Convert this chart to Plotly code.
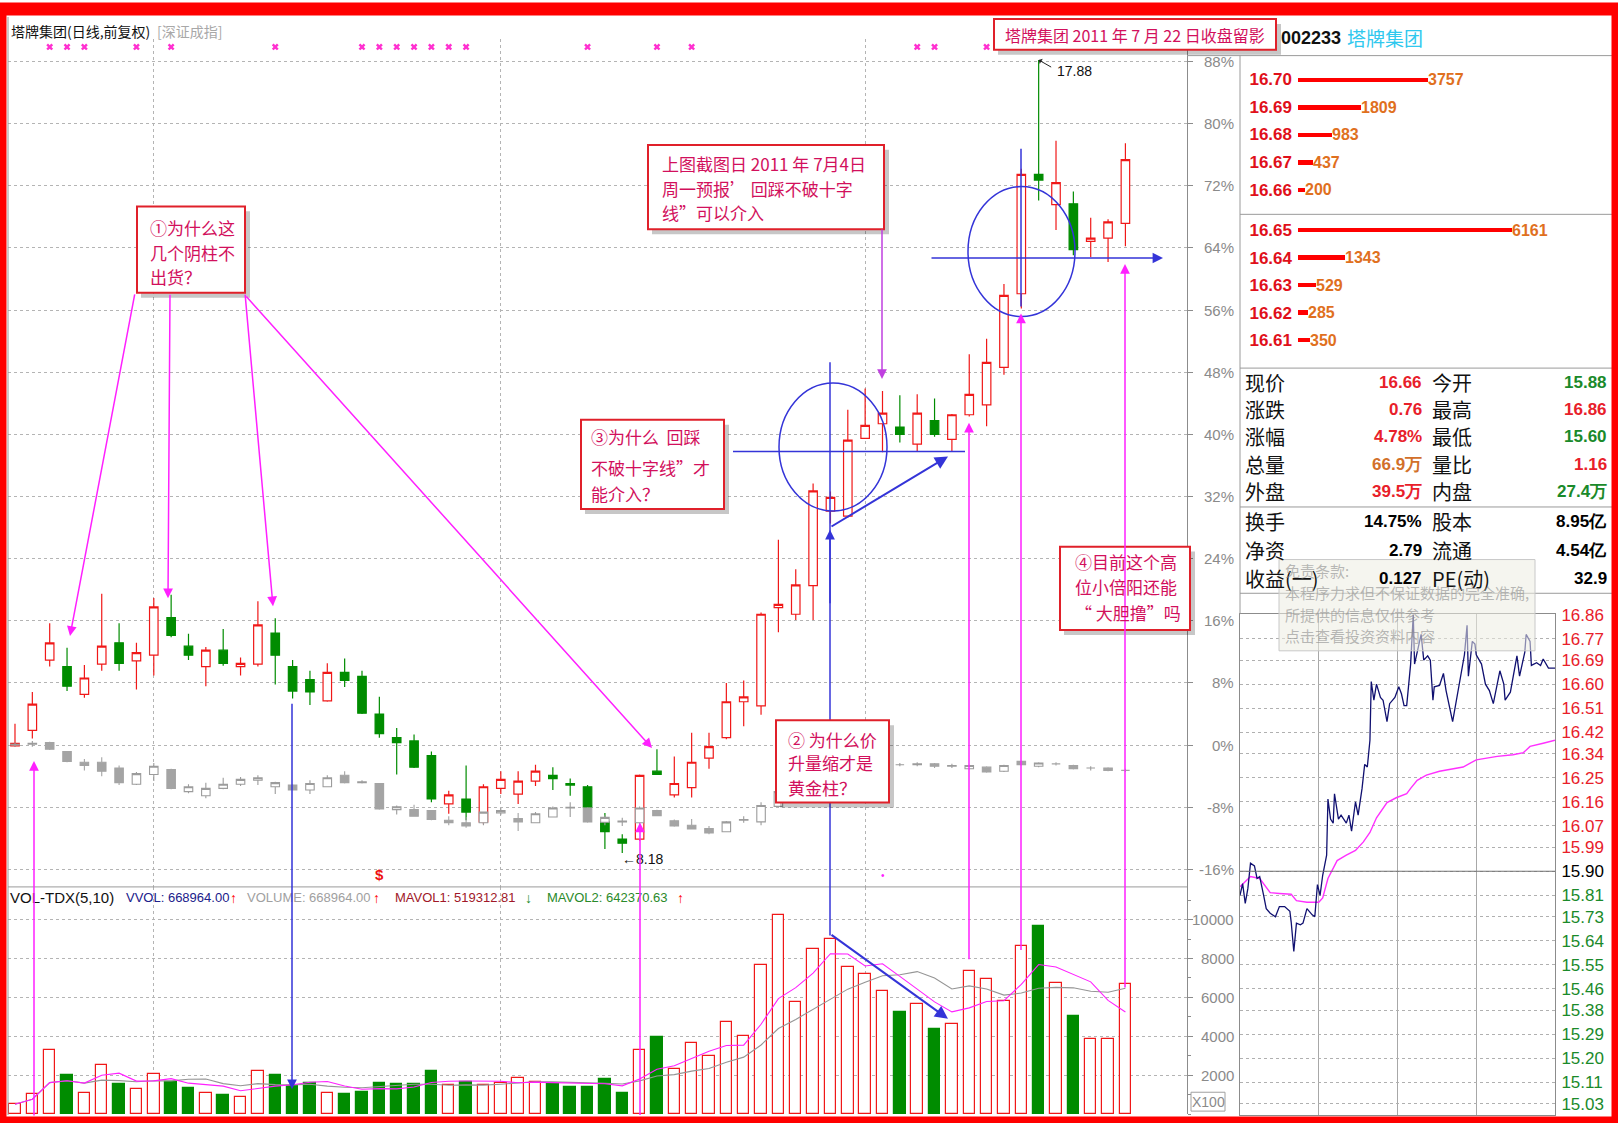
import plotly.graph_objects as go
import pandas as pd

W, H = 1618, 1123
def X(px): return px / W
def Y(py): return 1 - py / H

NARROW = "Liberation Sans Narrow, Arial Narrow, Liberation Sans, Arial, sans-serif"
SANS = "Liberation Sans, Arial, sans-serif"
CJK = "Noto Sans CJK SC, sans-serif"

# ---------------- daily data (price, 65 trading days) ----------------
base_price = 9.50  # 0% reference of the percent axis
opens = [9.49, 9.68, 10.54, 10.46, 10.12, 10.49, 10.75, 10.53, 10.60, 11.06,
         10.71, 10.46, 10.66, 10.46, 10.49, 10.87, 10.46, 10.30, 10.04, 10.39,
         10.34, 9.88, 9.59, 9.55, 9.37, 8.78, 8.84, 8.56, 8.97, 8.90,
         9.06, 9.13, 9.03, 8.99, 8.56, 8.35, 8.35, 9.18, 8.89, 8.98,
         9.34, 9.59, 10.03, 9.98, 11.18, 11.10, 11.45, 12.36, 12.30, 13.25,
         13.43, 13.39, 13.18, 13.47, 13.24, 13.54, 13.66, 14.12, 15.02, 16.48,
         16.11, 16.12, 15.66, 15.70, 15.88]
highs = [9.76, 10.15, 10.99, 10.69, 10.48, 11.35, 10.99, 10.75, 11.30, 11.34,
         10.86, 10.70, 10.92, 10.57, 11.26, 11.05, 10.54, 10.41, 10.50, 10.56,
         10.41, 10.09, 9.71, 9.63, 9.42, 8.94, 9.25, 9.02, 9.18, 9.18,
         9.26, 9.23, 9.09, 9.01, 8.67, 8.41, 9.14, 9.45, 9.36, 9.65,
         9.65, 10.26, 10.29, 11.12, 12.01, 11.65, 12.70, 12.60, 13.60, 13.86,
         13.83, 13.78, 13.79, 13.74, 13.55, 14.28, 14.47, 15.14, 16.55, 17.88,
         16.89, 16.27, 15.95, 15.93, 16.86]
lows = [9.48, 9.58, 10.46, 10.16, 10.08, 10.41, 10.41, 10.18, 10.35, 10.82,
        10.54, 10.22, 10.47, 10.35, 10.46, 10.24, 10.07, 9.99, 10.03, 10.21,
        9.88, 9.59, 9.14, 9.22, 8.80, 8.66, 8.58, 8.53, 8.90, 8.78,
        9.00, 8.95, 8.88, 8.72, 8.23, 8.18, 8.33, 9.14, 8.86, 8.86,
        9.21, 9.57, 9.73, 9.87, 10.88, 11.03, 11.03, 12.21, 12.28, 13.25,
        13.08, 13.20, 13.09, 13.27, 13.09, 13.52, 13.40, 14.03, 14.84, 16.16,
        15.80, 15.49, 15.47, 15.41, 15.60]
closes = [9.52, 10.00, 10.75, 10.22, 10.32, 10.71, 10.50, 10.63, 11.19, 10.84,
          10.60, 10.66, 10.50, 10.50, 10.97, 10.60, 10.16, 10.15, 10.39, 10.29,
          9.89, 9.64, 9.53, 9.23, 8.84, 8.89, 8.68, 8.99, 9.08, 9.06,
          9.18, 9.09, 9.01, 8.74, 8.44, 8.30, 9.13, 9.14, 9.03, 9.29,
          9.48, 10.03, 10.09, 11.10, 11.22, 11.46, 12.61, 12.53, 13.23, 13.41,
          13.56, 13.30, 13.56, 13.30, 13.54, 13.79, 14.18, 15.00, 16.48, 16.41,
          16.38, 15.56, 15.70, 15.90, 16.66]

# overlaid index (深证成指), drawn on the same price scale
idx_open = [9.50, 9.51, 9.53, 9.42, 9.29, 9.29, 9.22, 9.02, 9.14, 9.20,
            8.93, 8.88, 8.97, 9.02, 9.07, 8.99, 9.01, 8.95, 8.99, 9.13,
            9.04, 9.03, 8.71, 8.71, 8.70, 8.58, 8.55, 8.55, 8.67, 8.60,
            8.55, 8.62, 8.73, 8.73, 8.555, 8.56, 8.55, 8.70, 8.575, 8.52,
            8.48, 8.44, 8.58, 8.56, 8.75, 8.93, 9.00, 9.10, 9.12, 9.20,
            9.25, 9.26, 9.26, 9.27, 9.24, 9.21, 9.23, 9.18, 9.30, 9.24,
            9.27, 9.25, 9.22, 9.22, 9.19]
idx_high = [9.53, 9.55, 9.54, 9.42, 9.33, 9.35, 9.25, 9.17, 9.28, 9.21,
            9.02, 9.04, 9.10, 9.11, 9.13, 9.05, 9.02, 9.07, 9.13, 9.18,
            9.07, 9.03, 8.76, 8.77, 8.70, 8.63, 8.62, 8.68, 8.73, 8.67,
            8.68, 8.75, 8.80, 8.74, 8.64, 8.61, 8.75, 8.71, 8.59, 8.595,
            8.51, 8.57, 8.63, 8.80, 8.95, 9.03, 9.12, 9.15, 9.22, 9.24,
            9.28, 9.28, 9.29, 9.28, 9.27, 9.26, 9.24, 9.26, 9.31, 9.29,
            9.29, 9.26, 9.24, 9.23, 9.21]
idx_low = [9.48, 9.48, 9.44, 9.29, 9.19, 9.12, 9.01, 9.01, 9.06, 8.96,
           8.91, 8.85, 8.96, 9.00, 9.01, 8.90, 8.95, 8.90, 8.99, 9.03,
           9.03, 8.71, 8.65, 8.63, 8.58, 8.52, 8.49, 8.52, 8.64, 8.45,
           8.55, 8.62, 8.62, 8.55, 8.52, 8.51, 8.52, 8.63, 8.50, 8.47,
           8.41, 8.44, 8.55, 8.52, 8.74, 8.90, 8.98, 9.08, 9.10, 9.18,
           9.23, 9.24, 9.24, 9.22, 9.22, 9.20, 9.16, 9.17, 9.25, 9.23,
           9.25, 9.20, 9.19, 9.18, 9.17]
idx_close = [9.51, 9.52, 9.45, 9.30, 9.25, 9.18, 9.04, 9.15, 9.24, 8.97,
             8.99, 8.97, 9.02, 9.08, 9.10, 9.04, 8.95, 9.03, 9.10, 9.04,
             9.05, 8.72, 8.745, 8.63, 8.59, 8.55, 8.51, 8.68, 8.70, 8.56,
             8.66, 8.73, 8.74, 8.56, 8.615, 8.57, 8.73, 8.635, 8.51, 8.475,
             8.425, 8.56, 8.59, 8.76, 8.93, 9.00, 9.10, 9.12, 9.20, 9.22,
             9.26, 9.26, 9.27, 9.24, 9.25, 9.25, 9.17, 9.25, 9.26, 9.28,
             9.27, 9.21, 9.22, 9.19, 9.19]

# volume in hundreds of shares (X100)
volumes = [510, 1021, 3319, 2009, 1106, 2519, 1566, 1277, 2077, 1668,
           1362, 1106, 970, 885, 2213, 2009, 1447, 1617, 1106, 1055,
           1140, 1617, 1566, 1566, 2213, 1481, 1668, 1481, 1583, 1838,
           1651, 1532, 1413, 1413, 1787, 1106, 3285, 3949, 2298, 3660,
           2979, 4766, 4034, 7660, 10264, 5787, 8511, 9021, 7574, 7200,
           6332, 5277, 5651, 4391, 4630, 7370, 6928, 5821, 8630, 9702,
           6757, 5055, 3864, 3864, 6690]

pct_ticks = [88, 80, 72, 64, 56, 48, 40, 32, 24, 16, 8, 0, -8, -16]
vol_ticks = [2000, 4000, 6000, 8000, 10000]
month_starts = [8, 28, 49]
signal_days = [2, 3, 4, 7, 9, 15, 20, 21, 22, 23, 24, 25, 26, 33, 37, 39, 52, 53, 56]

# ---------------- order book ----------------
ask_prices = ["16.70", "16.69", "16.68", "16.67", "16.66"]
ask_vols = [3757, 1809, 983, 437, 200]
bid_prices = ["16.65", "16.64", "16.63", "16.62", "16.61"]
bid_vols = [6161, 1343, 529, 285, 350]

# ---------------- quote table ----------------
q_lab1 = ["现价", "涨跌", "涨幅", "总量", "外盘", "换手", "净资", "收益(一)"]
q_val1 = ["16.66", "0.76", "4.78%", "66.9万", "39.5万", "14.75%", "2.79", "0.127"]
q_col1 = ["#e8202a", "#e8202a", "#e8202a", "#d2702a", "#e8202a", "#000000", "#000000", "#000000"]
q_lab2 = ["今开", "最高", "最低", "量比", "内盘", "股本", "流通", "PE(动)"]
q_val2 = ["15.88", "16.86", "15.60", "1.16", "27.4万", "8.95亿", "4.54亿", "32.9"]
q_col2 = ["#1a8a2a", "#e8202a", "#1a8a2a", "#e8202a", "#1a8a2a", "#000000", "#000000", "#000000"]
q_rows_py = [377, 404, 431, 459, 486, 517, 546, 574]

# ---------------- intraday (minute, price) ----------------
tick_minutes = [0, 2, 4, 6, 8, 11, 13, 15, 18, 20, 23, 27, 30, 34, 38, 39, 41, 43, 46, 48,
                51, 55, 57, 59, 61, 63, 66, 67, 69, 71, 72, 75, 77, 81, 83, 85, 88, 90, 93, 95,
                97, 99, 100, 102, 104, 107, 109, 112, 114, 118, 121, 123, 125, 127, 130, 132, 133, 137, 138, 140,
                143, 145, 147, 148, 152, 155, 157, 162, 165, 169, 171, 173, 174, 177, 179, 180, 184, 187, 190, 193,
                196, 198, 201, 202, 206, 210, 211, 213, 217, 218, 221, 222, 226, 229, 231, 235, 240]
tick_prices = [15.81, 15.854, 15.78, 15.836, 15.93, 15.92, 15.873, 15.88, 15.81, 15.76,
               15.743, 15.73, 15.768, 15.768, 15.75, 15.71, 15.60, 15.706, 15.70, 15.706,
               15.76, 15.737, 15.73, 15.85, 15.81, 15.885, 15.96, 16.17, 16.095, 16.08,
               16.19, 16.095, 16.11, 16.08, 16.11, 16.05, 16.16, 16.11, 16.21, 16.30,
               16.29, 16.39, 16.61, 16.54, 16.60, 16.55, 16.54, 16.46, 16.527, 16.55,
               16.59, 16.564, 16.52, 16.52, 16.675, 16.86, 16.675, 16.76, 16.786, 16.69,
               16.706, 16.69, 16.54, 16.59, 16.595, 16.64, 16.576, 16.46, 16.545, 16.66,
               16.71, 16.82, 16.63, 16.76, 16.75, 16.71, 16.675, 16.60, 16.576, 16.527,
               16.61, 16.65, 16.60, 16.54, 16.57, 16.68, 16.706, 16.63, 16.72, 16.786,
               16.76, 16.67, 16.68, 16.67, 16.694, 16.66, 16.66]
avg_minutes = [0, 8, 15, 23, 30, 39, 43, 51, 60, 63, 67, 74, 81, 88, 94, 99, 104, 112, 119, 127,
               130, 135, 142, 152, 170, 180, 196, 208, 216, 221, 231, 240]
avg_prices = [15.842, 15.88, 15.873, 15.82, 15.817, 15.814, 15.79, 15.784, 15.784, 15.80,
              15.873, 15.94, 15.96, 15.978, 16.01, 16.045, 16.10, 16.157, 16.175, 16.19,
              16.21, 16.24, 16.26, 16.274, 16.29, 16.317, 16.33, 16.336, 16.344, 16.367,
              16.379, 16.39]
prev_close = 15.90
intraday_labels = ["16.86", "16.77", "16.69", "16.60", "16.51", "16.42", "16.34", "16.25", "16.16", "16.07",
                   "15.99", "15.90", "15.81", "15.73", "15.64", "15.55", "15.46", "15.38", "15.29", "15.20",
                   "15.11", "15.03"]

# =====================================================================
days = list(range(len(opens)))
ma5 = pd.Series(volumes).rolling(5, min_periods=1).mean()
ma10 = pd.Series(volumes).rolling(10, min_periods=1).mean()
up = [c >= o for o, c in zip(opens, closes)]
RED = "#f01818"
GREEN = "#008c00"

fig = go.Figure()

fig.add_trace(go.Candlestick(
    x=days, open=opens, high=highs, low=lows, close=closes,
    increasing=dict(line=dict(color=RED, width=1.2), fillcolor="white"),
    decreasing=dict(line=dict(color=GREEN, width=1.2), fillcolor=GREEN),
    xaxis="x", yaxis="y", hoverinfo="skip"))
fig.add_trace(go.Candlestick(
    x=days, open=idx_open, high=idx_high, low=idx_low, close=idx_close,
    increasing=dict(line=dict(color="#9c9c9c", width=1.1), fillcolor="white"),
    decreasing=dict(line=dict(color="#a4a4a4", width=1.1), fillcolor="#a4a4a4"),
    xaxis="x", yaxis="y", hoverinfo="skip"))

Y_TOP, Y_BOT = 18.139, 7.765
fig.add_trace(go.Scatter(
    x=signal_days, y=[Y_TOP - 0.1] * len(signal_days), mode="markers",
    marker=dict(symbol="x", size=6, color="#ff30d0", line=dict(width=0)),
    xaxis="x", yaxis="y", hoverinfo="skip"))

fig.add_trace(go.Bar(
    x=days, y=volumes, width=0.66,
    marker=dict(color=["white" if u else GREEN for u in up],
                line=dict(color=[RED if u else GREEN for u in up], width=1.2)),
    xaxis="x2", yaxis="y2", hoverinfo="skip"))
fig.add_trace(go.Scatter(x=days, y=ma10, mode="lines", line=dict(color="#959595", width=1.1),
                         xaxis="x2", yaxis="y2", hoverinfo="skip"))
fig.add_trace(go.Scatter(x=days, y=ma5, mode="lines", line=dict(color="#ff20ff", width=1.1),
                         xaxis="x2", yaxis="y2", hoverinfo="skip"))

fig.add_trace(go.Scatter(x=avg_minutes, y=avg_prices, mode="lines", line=dict(color="#ff30ff", width=1.4),
                         xaxis="x3", yaxis="y3", hoverinfo="skip"))
fig.add_trace(go.Scatter(x=tick_minutes, y=tick_prices, mode="lines", line=dict(color="#101070", width=1.3),
                         xaxis="x3", yaxis="y3", hoverinfo="skip"))

fig.add_trace(go.Bar(x=ask_vols, y=ask_prices, orientation="h", width=0.16,
                     marker=dict(color="#ff0000", line=dict(width=0)),
                     text=[str(v) for v in ask_vols], textposition="outside", constraintext="none",
                     texttemplate="<b>%{text}</b>",
                     textfont=dict(color="#e0701e", size=16, family=SANS), cliponaxis=False,
                     xaxis="x4", yaxis="y4", hoverinfo="skip"))
fig.add_trace(go.Bar(x=bid_vols, y=bid_prices, orientation="h", width=0.16,
                     marker=dict(color="#ff0000", line=dict(width=0)),
                     text=[str(v) for v in bid_vols], textposition="outside", constraintext="none",
                     texttemplate="<b>%{text}</b>",
                     textfont=dict(color="#e0701e", size=16, family=SANS), cliponaxis=False,
                     xaxis="x4", yaxis="y5", hoverinfo="skip"))

# ---------------- layout ----------------
grid = "#b4b4b4"
axcol = "#8c8c8c"
main_x = [-0.403, 67.55]
fig.update_layout(
    width=W, height=H, margin=dict(l=0, r=0, t=0, b=0),
    paper_bgcolor="white", plot_bgcolor="white", showlegend=False,
    hovermode=False, dragmode=False, bargap=0,
    xaxis=dict(domain=[X(8), X(1187)], range=main_x, anchor="y", tickvals=month_starts,
               showticklabels=False, ticks="", showgrid=True, griddash="dot", gridcolor=grid,
               zeroline=False, showline=False, rangeslider=dict(visible=False)),
    yaxis=dict(domain=[Y(885), Y(30)], range=[Y_BOT, Y_TOP], anchor="x", side="right",
               tickvals=[base_price * (1 + p / 100) for p in pct_ticks], showticklabels=False,
               ticks="outside", ticklen=5, tickcolor=axcol, showline=True, linecolor=axcol,
               showgrid=True, griddash="dot", gridcolor=grid, zeroline=False),
    xaxis2=dict(domain=[X(8), X(1187)], range=main_x, anchor="y2", tickvals=month_starts,
                showticklabels=False, ticks="", showgrid=True, griddash="dot", gridcolor=grid,
                zeroline=False, showline=False),
    yaxis2=dict(domain=[Y(1114), Y(885)], range=[0, 11684], anchor="x2", side="right",
                tickvals=vol_ticks, showticklabels=False, ticks="outside", ticklen=5, tickcolor=axcol,
                minor=dict(dtick=1000, ticks="outside", ticklen=3, tickcolor=axcol, showgrid=False),
                showline=True, linecolor=axcol, showgrid=True, griddash="dot", gridcolor=grid,
                zeroline=False),
    xaxis3=dict(domain=[X(1240), X(1555)], range=[0, 240], anchor="y3", tickvals=[60, 120, 180],
                showticklabels=False, ticks="", showgrid=True, gridcolor="#a8a8a8", gridwidth=1,
                zeroline=False, showline=True, mirror=True, linecolor="#8c8c8c"),
    yaxis3=dict(domain=[Y(1115), Y(610)], range=[14.988, 16.862], anchor="x3", side="right",
                tickvals=[float(t) for t in intraday_labels],
                ticktext=[f"<span style='color:{'#e8202a' if float(t) > prev_close else ('#000000' if float(t) == prev_close else '#1a8a2a')}'>{t}</span>"
                          for t in intraday_labels],
                tickfont=dict(size=17, family=NARROW), ticks="", ticklabelstandoff=2,
                showgrid=True, griddash="dot", gridcolor="#b0b0b0", zeroline=False,
                showline=True, mirror=True, linecolor="#8c8c8c"),
    xaxis4=dict(domain=[X(1298), X(1600)], range=[0, 8703], anchor="y4", visible=False),
    yaxis4=dict(domain=[Y(196), Y(57)], anchor="x4", type="category", autorange="reversed",
                tickvals=ask_prices, ticktext=[f"<b>{p}</b>" for p in ask_prices],
                showgrid=False, zeroline=False, showline=False, ticks="",
                tickfont=dict(size=17, color="#e0101a", family=SANS), ticklabelstandoff=5),
    yaxis5=dict(domain=[Y(348), Y(209)], anchor="x4", type="category", autorange="reversed",
                tickvals=bid_prices, ticktext=[f"<b>{p}</b>" for p in bid_prices],
                showgrid=False, zeroline=False, showline=False, ticks="",
                tickfont=dict(size=17, color="#e0101a", family=SANS), ticklabelstandoff=5),
)

shapes = []
ann = []

def line(x0, y0, x1, y1, color, width=1.0, dash=None):
    d = dict(color=color, width=width)
    if dash:
        d["dash"] = dash
    shapes.append(dict(type="line", xref="paper", yref="paper", x0=X(x0), y0=Y(y0), x1=X(x1), y1=Y(y1),
                       line=d, layer="above"))

def arrow(hx, hy, tx, ty, color, width=1.5, head=2, size=1.3):
    ann.append(dict(x=X(hx), y=Y(hy), xref="paper", yref="paper", ax=tx - hx, ay=ty - hy,
                    axref="pixel", ayref="pixel", text="", showarrow=True, arrowhead=head,
                    arrowsize=size, arrowwidth=width, arrowcolor=color, standoff=0, startstandoff=0))

def txt(x, y, s, size=14, color="black", family=NARROW, xanchor="left", yanchor="middle",
        xref="paper", yref="paper", bold=False):
    ann.append(dict(x=x, y=y, xref=xref, yref=yref, text=f"<b>{s}</b>" if bold else s, showarrow=False,
                    xanchor=xanchor, yanchor=yanchor, font=dict(size=size, color=color, family=family)))

def box(x0, y0, x1, y1, lines_, tx, ys, size=17, color="#d2105c"):
    shapes.append(dict(type="rect", xref="paper", yref="paper", x0=X(x0 + 4), x1=X(x1 + 5), y0=Y(y0 + 5),
                       y1=Y(y1 + 5), fillcolor="rgba(0,0,0,0.22)", line=dict(width=0), layer="above"))
    shapes.append(dict(type="rect", xref="paper", yref="paper", x0=X(x0), x1=X(x1), y0=Y(y0), y1=Y(y1),
                       fillcolor="white", line=dict(color="#e0202a", width=2), layer="above"))
    for s, yy in zip(lines_, ys):
        txt(X(tx), Y(yy), s, size=size, color=color, family=CJK)

# frame lines
for seg in [(1187, 47, 1612, 47), (1240, 47, 1240, 610), (1240, 207, 1612, 207), (1240, 362, 1612, 362),
            (1240, 502, 1612, 502), (1240, 589, 1612, 589), (8, 885, 1187, 885), (8, 8, 8, 1115)]:
    line(*seg, color="#9a9a9a", width=1)
shapes.append(dict(type="line", xref="x3 domain", yref="y3", x0=0, x1=1, y0=prev_close, y1=prev_close,
                   line=dict(color="#707070", width=1.2), layer="above"))

# percent + volume axis labels (right aligned like the terminal)
for p in pct_ticks:
    txt(X(1236), base_price * (1 + p / 100), f"{p}%", size=15, color="#8a8a8a", xanchor="right", yref="y")
for v in vol_ticks:
    txt(X(1236), v, str(v), size=15, color="#8a8a8a", xanchor="right", yref="y2")
shapes.append(dict(type="rect", xref="paper", yref="paper", x0=X(1191), x1=X(1225), y0=Y(1111), y1=Y(1092),
                   line=dict(color="#a0a0a0", width=1), fillcolor="white", layer="above"))
txt(X(1208), Y(1101.5), "X100", size=14, color="#8a8a8a", xanchor="center")

# header texts
txt(X(9), Y(22), "塔牌集团(日线,前复权)", size=14, color="#111111", family=CJK)
txt(X(155), Y(22), "[深证成指]", size=14, color="#a8a8a8", family=CJK)
txt(X(1279), Y(29), "002233", size=18, color="#111111", family=SANS, bold=True)
txt(X(1345), Y(29), "塔牌集团", size=19, color="#30c8ee", family=CJK)

# volume header
vh = 896
txt(X(8), Y(vh), "VOL-TDX(5,10)", size=15, color="#111111", family=SANS)
txt(X(124), Y(vh), "VVOL: 668964.00", size=13, color="#20208a", family=SANS)
txt(X(228), Y(vh), "↑", size=14, color="#ff0000", family=SANS, bold=True)
txt(X(245), Y(vh), "VOLUME: 668964.00", size=13, color="#a0a0a0", family=SANS)
txt(X(371), Y(vh), "↑", size=14, color="#ff0000", family=SANS, bold=True)
txt(X(393), Y(vh), "MAVOL1: 519312.81", size=13, color="#a01828", family=SANS)
txt(X(523), Y(vh), "↓", size=14, color="#1a8a2a", family=SANS, bold=True)
txt(X(545), Y(vh), "MAVOL2: 642370.63", size=13, color="#2a8a2a", family=SANS)
txt(X(675), Y(vh), "↑", size=14, color="#ff0000", family=SANS, bold=True)

# small marks on the chart
txt(35, 8.18, "←8.18", size=14, color="#111111", xanchor="left", xref="x", yref="y")
ann[-1]["yshift"] = -6
ann[-1]["xshift"] = -2
ann.append(dict(x=59, y=17.88, xref="x", yref="y", ax=14, ay=8, axref="pixel", ayref="pixel", text="",
                showarrow=True, arrowhead=1, arrowsize=1, arrowwidth=1, arrowcolor="#222222"))
txt(X(1055), Y(63), "17.88", size=14, color="#111111")
txt(21, Y(872), "$", size=15, color="#ee1010", xanchor="center", xref="x", bold=True)
txt(50, Y(873), "•", size=10, color="#ff20ff", xanchor="center", xref="x")

# ---------------- annotations: arrows, circles, boxes ----------------
MAG = "#ff20ff"
BLUE = "#3434d8"
arrow(70, 632, 135, 289, MAG)
arrow(168, 594, 170, 289, MAG)
arrow(273, 602, 245, 289, MAG)
arrow(652, 745, 245, 292, MAG)
arrow(34, 758, 34, 1114, MAG)
arrow(640, 820, 640, 1114, MAG)
arrow(969, 417, 969, 955, MAG)
arrow(1021, 307, 1021, 945, MAG)
arrow(1125, 257, 1125, 982, MAG)
arrow(882, 373, 882, 222, "#c040e0")
arrow(292, 1089, 292, 702, BLUE)
line(830, 356, 830, 934, BLUE, 1.5)
arrow(830, 525, 830, 600, BLUE)
line(733, 446, 965, 446, BLUE, 1.5)
arrow(948, 451, 830, 522, BLUE, width=2)
arrow(948, 1018, 830, 933, BLUE, width=2)
line(1021, 141, 1021, 300, BLUE, 1.5)
arrow(1163, 251, 930, 251, BLUE, width=1.6)
shapes.append(dict(type="circle", xref="paper", yref="paper", x0=X(779), x1=X(887), y0=Y(506), y1=Y(377),
                   line=dict(color=BLUE, width=1.5), layer="above"))
shapes.append(dict(type="circle", xref="paper", yref="paper", x0=X(968), x1=X(1075), y0=Y(310), y1=Y(179),
                   line=dict(color=BLUE, width=1.5), layer="above"))

box(137, 199, 245, 286, ["①为什么这", "几个阴柱不", "出货？"], 148, [220, 245, 270])
box(648, 137, 884, 222, ["上图截图日 2011 年 7月4日", "周一预报’ 回踩不破十字", "线”可以介入"], 660, [156, 181, 205])
box(581, 414, 724, 504, ["③为什么  回踩", "不破十字线”才", "能介入？"], 589, [431, 462, 488])
box(776, 717, 889, 800, ["② 为什么价", "升量缩才是", "黄金柱？"], 786, [736, 760, 785])
box(1060, 542, 1190, 626, ["④目前这个高", "位小倍阳还能", "“ 大胆撸”吗"], 1073, [557, 582, 608])
box(994, 10, 1276, 41, ["塔牌集团 2011 年 7 月 22 日收盘留影"], 1003, [26], size=16)

# ---------------- quote table ----------------
for i, yy in enumerate(q_rows_py):
    txt(X(1243), Y(yy), q_lab1[i], size=20, color="#111111", family=CJK)
    txt(X(1424), Y(yy), q_val1[i], size=17, color=q_col1[i], xanchor="right", family=SANS, bold=True)
    txt(X(1430), Y(yy), q_lab2[i], size=20, color="#111111", family=CJK)
    txt(X(1609), Y(yy), q_val2[i], size=17, color=q_col2[i], xanchor="right", family=SANS, bold=True)

# disclaimer overlay
shapes.append(dict(type="rect", xref="paper", yref="paper", x0=X(1279), x1=X(1535), y0=Y(647), y1=Y(555),
                   fillcolor="rgba(236,236,226,0.55)", line=dict(color="#c8c8c8", width=1), layer="above"))
for s, yy in zip(["免责条款:", "本程序力求但不保证数据的完全准确,", "所提供的信息仅供参考", "点击查看投资资料内容"],
                 [566, 588, 610, 632]):
    txt(X(1283), Y(yy), s, size=15, color="rgba(140,140,140,0.6)", family=CJK)

# red outer frame
shapes.append(dict(type="rect", xref="paper", yref="paper", x0=0, x1=1, y0=0, y1=1,
                   line=dict(color="#ff0000", width=13), layer="above"))

fig.update_layout(shapes=shapes, annotations=ann)
fig.write_html("out.html", config={"displayModeBar": False},
               post_script="document.body.style.margin='0';")
